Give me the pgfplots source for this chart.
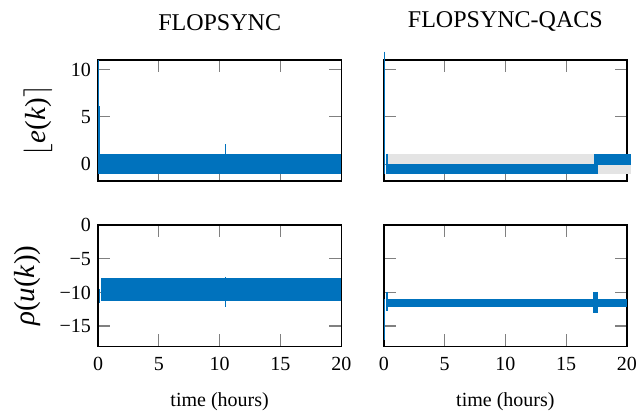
\documentclass[border=0pt]{standalone}
\usepackage{fontspec}
\setmainfont{Liberation Serif}
\usepackage{pgfplots}
\pgfplotsset{compat=1.18}
\usepgfplotslibrary{groupplots}
\definecolor{mblue}{RGB}{0,114,189}
\definecolor{shade}{RGB}{228,228,228}

\begin{document}
\begin{tikzpicture}
\begin{groupplot}[
    group style={group size=2 by 2, group name=g,
        horizontal sep=21.25pt, vertical sep=22pt,
        x descriptions at=edge bottom, y descriptions at=edge left},
    scale only axis, width=121.5pt, height=60.5pt,
    xmin=0, xmax=20, xtick={0,5,10,15,20},
    tick align=inside, major tick length=6pt,
    tick style={gray, line width=0.6pt},
    axis line style={line width=0.7pt},
    /pgf/number format/assume math mode=true,
    title style={font=\large, yshift=5pt},
    xticklabel style={yshift=-2pt},
    xlabel style={yshift=-4pt},
    ylabel style={font=\fontsize{14.5}{17}\selectfont, yshift=2.5pt},
    clip=false,
]
% FLOPSYNC, error
\nextgroupplot[title=FLOPSYNC, ymin=-1.8, ymax=11, ytick={0,5,10},
    ylabel={$\lfloor$\textit{e}(\textit{k})$\rceil$}]
\addplot[fill=mblue, draw=none] coordinates {
    (0.15,-1.05)(20,-1.05)(20,1.05)(0.15,1.05)} -- cycle;
\addplot[mblue, line width=0.8pt] coordinates {(0.02,11)(0.02,-1)};
\addplot[mblue, line width=0.6pt] coordinates {(0.12,6.1)(0.12,-1)};
\addplot[mblue, line width=0.6pt] coordinates {(10.45,2.1)(10.45,0)};

% FLOPSYNC-QACS, error
\nextgroupplot[title=FLOPSYNC-QACS, ymin=-1.8, ymax=11, ytick={0,5,10}]
\addplot[fill=shade, draw=none] coordinates {
    (0.35,-1.05)(20.3,-1.05)(20.3,1.1)(0.35,1.1)} -- cycle;
\addplot[fill=mblue, draw=none] coordinates {
    (0.15,-1.05)(17.65,-1.05)(17.65,0.05)(0.15,0.05)} -- cycle;
\addplot[fill=mblue, draw=none] coordinates {
    (17.25,-0.1)(20.3,-0.1)(20.3,1.1)(17.25,1.1)} -- cycle;
\addplot[mblue, line width=0.8pt] coordinates {(0.05,11.9)(0.05,-1)};
\addplot[mblue, line width=0.8pt] coordinates {(0.25,1.1)(0.25,-1)};

% FLOPSYNC, control
\nextgroupplot[ymin=-18, ymax=0, ytick={-15,-10,-5,0},
    yticklabels={−15,−10,−5,0},
    xlabel={time (hours)},
    ylabel={\textit{ρ}(\textit{u}(\textit{k}))}]
\addplot[fill=mblue, draw=none] coordinates {
    (0.25,-11.2)(20,-11.2)(20,-7.9)(0.25,-7.9)} -- cycle;
\addplot[mblue, line width=0.8pt] coordinates {(0.12,-9.5)(0.12,-11.6)};
\addplot[mblue, line width=0.6pt] coordinates {(10.45,-7.7)(10.45,-12.1)};

% FLOPSYNC-QACS, control
\nextgroupplot[ymin=-18, ymax=0, ytick={-15,-10,-5,0},
    xlabel={time (hours)}]
\addplot[fill=mblue, draw=none] coordinates {
    (0.25,-12.2)(20,-12.2)(20,-10.9)(0.25,-10.9)} -- cycle;
\addplot[mblue, line width=1.2pt] coordinates {(0.27,-9.9)(0.27,-12.7)};
\addplot[mblue, line width=0.6pt] coordinates {(0.05,-11)(0.05,-17)};
\addplot[mblue, line width=2.5pt] coordinates {(17.45,-9.9)(17.45,-13.1)};
\end{groupplot}
\pgfresetboundingbox
\path[use as bounding box] ([shift={(-49pt,-32.5pt)}]g c1r2.south west)
    rectangle ([shift={(5.5pt,30pt)}]g c2r1.north east);
\end{tikzpicture}
\end{document}
